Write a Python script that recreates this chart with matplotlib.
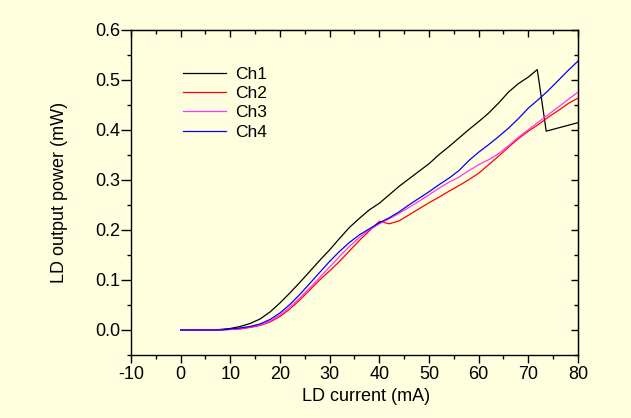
import numpy as np
import matplotlib
matplotlib.use('Agg')
import matplotlib.pyplot as plt
from matplotlib.ticker import MultipleLocator, FormatStrFormatter

# LD current (mA) and output power (mW)
x_ch1 = [0, 2, 4, 6, 8, 10, 12, 14, 16, 18, 20, 22, 24, 26, 28, 30, 32, 34, 36, 38,
         40, 42, 44, 46, 48, 50, 52, 54, 56, 58, 60, 62, 64, 66, 68, 70, 71.8, 73.6, 80]
p_ch1 = [0, 0, 0, 0, 0.001, 0.003, 0.007, 0.013, 0.022, 0.036, 0.054, 0.074, 0.095,
         0.117, 0.139, 0.16, 0.183, 0.205, 0.223, 0.24, 0.253, 0.27, 0.287, 0.302, 0.317,
         0.332, 0.35, 0.366, 0.383, 0.4, 0.416, 0.433, 0.453, 0.475, 0.492, 0.505, 0.52,
         0.397, 0.414]

x_grid = [0, 2, 4, 6, 8, 10, 12, 14, 16, 18, 20, 22, 24, 26, 28, 30, 32, 34, 36, 38,
          40, 42, 44, 46, 48, 50, 52, 54, 56, 58, 60, 62, 64, 66, 68, 70, 72, 74, 76, 78, 80]
p_ch2 = [0, 0, 0, 0, 0, 0.001, 0.002, 0.005, 0.009, 0.016, 0.027, 0.042, 0.06, 0.08,
         0.1, 0.118, 0.137, 0.158, 0.179, 0.198, 0.217, 0.212, 0.218, 0.23, 0.242, 0.254,
         0.265, 0.277, 0.288, 0.3, 0.313, 0.33, 0.347, 0.365, 0.382, 0.397, 0.41, 0.425,
         0.438, 0.452, 0.463]
p_ch3 = [0, 0, 0, 0, 0, 0.001, 0.003, 0.006, 0.01, 0.018, 0.03, 0.046, 0.064, 0.084,
         0.105, 0.126, 0.147, 0.167, 0.185, 0.2, 0.212, 0.222, 0.233, 0.245, 0.257, 0.27,
         0.283, 0.295, 0.305, 0.318, 0.33, 0.34, 0.352, 0.368, 0.385, 0.4, 0.415, 0.43,
         0.445, 0.46, 0.475]
p_ch4 = [0, 0, 0, 0, 0, 0.002, 0.004, 0.007, 0.012, 0.021, 0.034, 0.051, 0.071, 0.093,
         0.115, 0.137, 0.157, 0.175, 0.19, 0.202, 0.214, 0.224, 0.236, 0.25, 0.263, 0.276,
         0.29, 0.303, 0.318, 0.338, 0.355, 0.37, 0.386, 0.403, 0.422, 0.443, 0.46, 0.478,
         0.498, 0.518, 0.537]

bg = '#ffffe0'
plt.rcParams['font.family'] = ['Liberation Sans', 'DejaVu Sans']
plt.rcParams['axes.unicode_minus'] = False

fig = plt.figure(figsize=(6.31, 4.18), dpi=100, facecolor=bg)
ax = fig.add_axes([0.2076, 0.1507, 0.7084, 0.7787], facecolor=bg)

lw = 0.9
ax.plot(x_ch1, p_ch1, color='black', lw=lw, label='Ch1')
ax.plot(x_grid, p_ch2, color='#ff0000', lw=lw, label='Ch2')
ax.plot(x_grid, p_ch3, color='#ff33ff', lw=lw, label='Ch3')
ax.plot(x_grid, p_ch4, color='#0000ff', lw=lw, label='Ch4')

ax.set_xlim(-10, 80)
ax.set_ylim(-0.05, 0.6)
ax.xaxis.set_major_locator(MultipleLocator(10))
ax.xaxis.set_minor_locator(MultipleLocator(5))
ax.yaxis.set_major_locator(MultipleLocator(0.1))
ax.yaxis.set_minor_locator(MultipleLocator(0.05))
ax.yaxis.set_major_formatter(FormatStrFormatter('%.1f'))
ax.tick_params(axis='x', which='major', direction='out', length=6, width=1,
               labelsize=13, pad=2)
ax.tick_params(axis='y', which='major', direction='out', length=7, width=1,
               labelsize=13, pad=1)
ax.tick_params(which='minor', direction='out', length=3, width=1)
for s in ax.spines.values():
    s.set_linewidth(1)

# inward ticks on top and right
top = ax.secondary_xaxis('top')
top.xaxis.set_major_locator(MultipleLocator(10))
top.xaxis.set_minor_locator(MultipleLocator(5))
top.tick_params(which='major', direction='in', length=5, width=1, labeltop=False)
top.tick_params(which='minor', direction='in', length=3, width=1)
right = ax.secondary_yaxis('right')
right.yaxis.set_major_locator(MultipleLocator(0.1))
right.yaxis.set_minor_locator(MultipleLocator(0.05))
right.tick_params(which='major', direction='in', length=5, width=1, labelright=False)
right.tick_params(which='minor', direction='in', length=3, width=1)

ax.set_xlabel('LD current (mA)', fontsize=13, va='center')
ax.xaxis.set_label_coords(0.526, -0.129)
ax.set_ylabel('LD output power (mW)', fontsize=13, va='center')
ax.yaxis.set_label_coords(-0.161, 0.5)

ax.legend(loc='upper left', bbox_to_anchor=(0.116, 0.886), frameon=False,
          fontsize=12.5, handlelength=2.5, handletextpad=0.5, labelspacing=0.24,
          borderaxespad=0, borderpad=0)

fig.savefig('out.png', dpi=100, facecolor=bg)
